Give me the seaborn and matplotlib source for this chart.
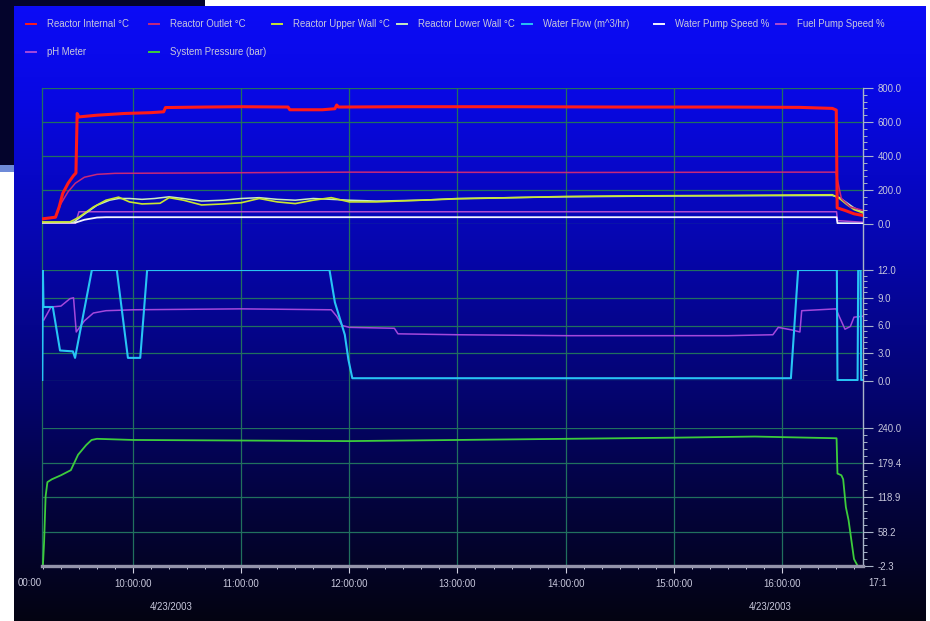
import numpy as np
import pandas as pd
import matplotlib
matplotlib.use("Agg")
import matplotlib.pyplot as plt
from matplotlib.lines import Line2D
from matplotlib.patches import Rectangle
from matplotlib.ticker import AutoMinorLocator, MultipleLocator
import seaborn as sns

# ---------------------------------------------------------------- data
# Reactor temperatures / pump speeds (upper panel, 0-800)
internal_t = ["09:09:30", "09:17:00", "09:19:00", "09:21:00", "09:24:00", "09:27:00", "09:28:20",
              "09:29:00", "09:30:00", "09:40:00", "09:55:00", "10:10:00", "10:17:00", "10:18:00",
              "10:40:00", "11:00:00", "11:26:00", "11:27:00", "11:45:00", "11:52:00", "11:53:00",
              "11:54:00", "12:30:00", "13:30:00", "14:30:00", "15:30:00", "16:10:00", "16:28:00",
              "16:30:10", "16:30:40", "16:35:00", "16:40:00", "16:45:00"]
internal_v = [30, 40, 100, 180, 240, 285, 300,
              650, 630, 640, 650, 655, 660, 685,
              688, 690, 688, 672, 672, 678, 700,
              688, 690, 690, 688, 688, 686, 680,
              670, 95, 80, 60, 50]

outlet_t = ["09:09:30", "09:17:00", "09:20:00", "09:24:00", "09:28:00", "09:33:00", "09:40:00",
            "09:50:00", "10:30:00", "12:00:00", "14:00:00", "16:00:00", "16:30:00", "16:31:00",
            "16:33:00", "16:38:00", "16:45:00"]
outlet_v = [30, 40, 120, 190, 240, 275, 292,
            298, 300, 305, 303, 305, 305, 250,
            150, 100, 80]

upper_wall_t = ["09:09:30", "09:25:00", "09:30:00", "09:38:00", "09:45:00", "09:52:00", "09:58:00",
                "10:05:00", "10:15:00", "10:20:00", "10:28:00", "10:38:00", "10:50:00", "11:00:00",
                "11:10:00", "11:20:00", "11:30:00", "11:40:00", "11:50:00", "12:00:00", "12:15:00",
                "12:40:00", "13:00:00", "13:30:00", "14:00:00", "14:30:00", "15:30:00", "16:28:00",
                "16:32:00", "16:36:00", "16:40:00", "16:45:00"]
upper_wall_v = [12, 12, 40, 100, 140, 158, 130,
                118, 122, 155, 140, 112, 118, 125,
                150, 130, 120, 140, 155, 130, 130,
                140, 148, 155, 162, 165, 168, 172,
                150, 115, 85, 65]

lower_wall_t = ["09:09:30", "09:27:00", "09:32:00", "09:40:00", "09:47:00", "09:52:00", "09:58:00",
                "10:05:00", "10:12:00", "10:20:00", "10:28:00", "10:38:00", "10:50:00", "11:00:00",
                "11:10:00", "11:20:00", "11:30:00", "11:40:00", "11:50:00", "12:00:00", "12:15:00",
                "12:40:00", "13:00:00", "13:30:00", "14:00:00", "15:00:00", "16:28:00", "16:32:00",
                "16:36:00", "16:40:00", "16:45:00"]
lower_wall_v = [8, 10, 50, 110, 140, 150, 150,
                145, 150, 160, 150, 135, 140, 150,
                155, 145, 140, 150, 145, 140, 135,
                140, 150, 155, 160, 165, 168, 155,
                125, 95, 70]

water_pump_t = ["09:09:30", "09:28:00", "09:33:00", "09:40:00", "09:45:00", "16:30:20", "16:30:50", "16:45:00"]
water_pump_v = [8, 8, 25, 38, 40, 40, 5, 3]

fuel_pump_t = ["09:09:30", "09:28:00", "09:30:00", "16:30:20", "16:30:50", "16:45:00"]
fuel_pump_v = [2, 2, 72, 72, 20, 10]

# Water flow and pH (middle panel, 0-12)
flow_t = ["09:09:40", "09:10:00", "09:10:20", "09:15:30", "09:19:30", "09:26:40", "09:27:50",
          "09:37:10", "09:51:00", "09:57:10", "10:04:00", "10:07:50", "11:49:00", "11:52:00",
          "11:55:00", "11:57:30", "11:59:30", "12:01:40", "16:05:00", "16:09:00", "16:30:30",
          "16:30:50", "16:42:00", "16:42:20", "16:43:40", "16:44:00", "16:45:00"]
flow_v = [0.0, 12.0, 8.0, 8.0, 3.3, 3.2, 2.5,
          12.0, 12.0, 2.5, 2.5, 12.0, 12.0, 8.5,
          6.6, 5.0, 2.3, 0.3, 0.3, 12.0, 12.0,
          0.1, 0.1, 12.0, 12.0, 0.1, 0.1]

ph_t = ["09:10:30", "09:14:30", "09:20:00", "09:25:00", "09:27:00", "09:28:30", "09:33:00",
        "09:38:00", "09:45:00", "10:00:00", "11:00:00", "11:50:00", "11:53:00", "11:56:00",
        "12:00:00", "12:25:00", "12:27:00", "13:00:00", "14:00:00", "15:30:00", "15:55:00",
        "15:58:00", "16:06:00", "16:10:00", "16:11:00", "16:30:00", "16:32:00", "16:35:00",
        "16:38:00", "16:40:00", "16:45:00"]
ph_v = [6.6, 8.0, 8.1, 8.9, 9.0, 5.3, 6.5,
        7.35, 7.6, 7.7, 7.8, 7.7, 7.0, 6.0,
        5.8, 5.7, 5.1, 5.0, 4.9, 4.9, 5.0,
        5.8, 5.5, 5.3, 7.6, 7.8, 6.9, 5.6,
        5.9, 6.9, 7.0]

# System pressure (lower panel)
pressure_t = ["09:09:30", "09:10:00", "09:10:40", "09:11:30", "09:12:30", "09:15:00", "09:20:00",
              "09:25:30", "09:29:30", "09:34:00", "09:37:00", "09:40:00", "10:00:00", "11:00:00",
              "12:00:00", "13:00:00", "14:00:00", "15:00:00", "15:45:00", "16:15:00", "16:30:20",
              "16:30:50", "16:33:00", "16:34:00", "16:35:30", "16:37:00", "16:40:00", "16:42:00",
              "16:45:00"]
pressure_v = [-2.3, -2.0, 40, 120, 145, 150, 157,
              166, 193, 210, 219, 221, 219, 218,
              217, 219, 221, 223, 225, 223, 222,
              160, 157, 150, 101, 78, 10, -2.0,
              -2.3]

# Axis ranges and tick labels
x_start, x_end = "09:09:30", "16:45:00"
hour_ticks = [10, 11, 12, 13, 14, 15, 16]
hour_labels = ["10:00:00", "11:00:00", "12:00:00", "13:00:00", "14:00:00", "15:00:00", "16:00:00"]
temp_ticks = [0.0, 200.0, 400.0, 600.0, 800.0]
flow_ticks = [0.0, 3.0, 6.0, 9.0, 12.0]
press_ticks = [-2.3, 58.2, 118.9, 179.4, 240.0]
date_label = "4/23/2003"

legend_names = ["Reactor Internal °C", "Reactor Outlet °C", "Reactor Upper Wall °C",
                "Reactor Lower Wall °C", "Water Flow (m^3/hr)", "Water Pump Speed %",
                "Fuel Pump Speed %", "pH Meter", "System Pressure (bar)"]

colors = {
    "Reactor Internal °C": "#ff1a1a",
    "Reactor Outlet °C": "#c8287a",
    "Reactor Upper Wall °C": "#c8e632",
    "Reactor Lower Wall °C": "#c8ecc0",
    "Water Flow (m^3/hr)": "#28c4f4",
    "Water Pump Speed %": "#f4f4ff",
    "Fuel Pump Speed %": "#b04ad0",
    "pH Meter": "#a448dc",
    "System Pressure (bar)": "#3ccc3c",
}


def hours(clock):
    parts = [int(p) for p in clock.split(":")]
    while len(parts) < 3:
        parts.append(0)
    return parts[0] + parts[1] / 60 + parts[2] / 3600


def frame(name, times, values):
    return pd.DataFrame({"time": [hours(t) for t in times], "value": values, "series": name})


# ---------------------------------------------------------------- figure
W, H = 930, 621
plt.rcParams["font.family"] = ["Liberation Sans Narrow", "Liberation Sans", "DejaVu Sans"]
fig = plt.figure(figsize=(W / 100, H / 100), dpi=100, facecolor="white")


def box(x0, y0, x1, y1):
    return [x0 / W, 1 - y1 / H, (x1 - x0) / W, (y1 - y0) / H]


def fx(x):
    return x / W


def fy(y):
    return 1 - y / H


txt_col = "#c8c8dc"
grid_col = "#21705e"
axis_col = "#a8b4c8"
fs = 6.9

# slide decoration behind the chart
fig.patches.append(Rectangle((0, fy(165)), 205 / W, 165 / H, transform=fig.transFigure,
                             facecolor="#04042c", edgecolor="none", zorder=-5))
fig.patches.append(Rectangle((0, fy(172)), 205 / W, 7 / H, transform=fig.transFigure,
                             facecolor="#6e8ad8", edgecolor="none", zorder=-5))

# chart panel with vertical blue-to-black gradient
ax_bg = fig.add_axes(box(14, 6, 925, 621), zorder=-4)
ys = np.linspace(6, 621, 400)
stops_y = [6, 100, 250, 400, 500, 621]
stops_rgb = np.array([[12, 12, 246], [8, 8, 226], [6, 6, 172], [4, 4, 108], [3, 3, 62], [4, 4, 18]]) / 255
grad = np.stack([np.interp(ys, stops_y, stops_rgb[:, i]) for i in range(3)], axis=-1)[:, None, :]
ax_bg.imshow(grad, aspect="auto", extent=[0, 1, 0, 1], origin="upper")
ax_bg.set_axis_off()

xmin, xmax = hours(x_start), hours(x_end)

# vertical hour grid spanning all three panels
ax_grid = fig.add_axes(box(42, 88, 863, 566), zorder=-3)
ax_grid.set_facecolor("none")
ax_grid.set_xlim(xmin, xmax)
ax_grid.set_ylim(0, 1)
for h in hour_ticks:
    ax_grid.axvline(h, color=grid_col, lw=0.9)
ax_grid.set_xticks([])
ax_grid.set_yticks([])
for side in ["top", "bottom"]:
    ax_grid.spines[side].set_visible(False)
ax_grid.spines["left"].set_color(grid_col)
ax_grid.spines["left"].set_linewidth(0.9)
ax_grid.spines["right"].set_color(axis_col)
ax_grid.spines["right"].set_linewidth(1.0)


def panel(rect, ylim, ticks, labels):
    ax = fig.add_axes(rect)
    ax.set_facecolor("none")
    ax.set_xlim(xmin, xmax)
    ax.set_ylim(*ylim)
    ax.set_yticks(ticks)
    ax.set_yticklabels(labels)
    ax.yaxis.set_minor_locator(AutoMinorLocator(5))
    ax.yaxis.tick_right()
    ax.tick_params(axis="y", which="major", length=7, width=0.8, color=axis_col, pad=3.6,
                   labelsize=fs, labelcolor=txt_col)
    ax.tick_params(axis="y", which="minor", length=2.8, width=0.7, color=axis_col)
    ax.set_xticks(hour_ticks)
    ax.tick_params(axis="x", length=0, labelbottom=False)
    ax.grid(axis="y", color=grid_col, lw=0.9)
    ax.grid(axis="x", visible=False)
    for side in ax.spines.values():
        side.set_visible(False)
    return ax


ax_top = panel(box(42, 88, 863, 224), (0, 800), temp_ticks, [f"{v:.1f}" for v in temp_ticks])
ax_mid = panel(box(42, 270, 863, 381), (0, 12), flow_ticks, [f"{v:.1f}" for v in flow_ticks])
ax_bot = panel(box(42, 428, 863, 566), (press_ticks[0], press_ticks[-1]), press_ticks,
               [f"{v:.1f}" for v in press_ticks])

top_series = [
    ("Fuel Pump Speed %", fuel_pump_t, fuel_pump_v, 1.1),
    ("Water Pump Speed %", water_pump_t, water_pump_v, 1.3),
    ("Reactor Lower Wall °C", lower_wall_t, lower_wall_v, 1.1),
    ("Reactor Upper Wall °C", upper_wall_t, upper_wall_v, 1.2),
    ("Reactor Outlet °C", outlet_t, outlet_v, 1.1),
    ("Reactor Internal °C", internal_t, internal_v, 2.2),
]
for name, t, v, lw in top_series:
    sns.lineplot(data=frame(name, t, v), x="time", y="value", color=colors[name], lw=lw,
                 estimator=None, sort=False, ax=ax_top)

sns.lineplot(data=frame("pH Meter", ph_t, ph_v), x="time", y="value",
             color=colors["pH Meter"], lw=1.1, estimator=None, sort=False, ax=ax_mid)
sns.lineplot(data=frame("Water Flow (m^3/hr)", flow_t, flow_v), x="time", y="value",
             color=colors["Water Flow (m^3/hr)"], lw=1.5, estimator=None, sort=False, ax=ax_mid)
sns.lineplot(data=frame("System Pressure (bar)", pressure_t, pressure_v), x="time", y="value",
             color=colors["System Pressure (bar)"], lw=1.3, estimator=None, sort=False, ax=ax_bot)

for ax in (ax_top, ax_mid, ax_bot):
    ax.set_xlim(xmin, xmax)
    ax.set_xlabel("")
    ax.set_ylabel("")
    ax.grid(axis="x", visible=False)

# time axis under the lower panel
ax_bot.spines["bottom"].set_visible(True)
ax_bot.spines["bottom"].set_color("#9494aa")
ax_bot.spines["bottom"].set_linewidth(2.4)
ax_bot.set_xticks(hour_ticks)
ax_bot.set_xticklabels(hour_labels)
ax_bot.xaxis.set_minor_locator(MultipleLocator(1 / 6))
ax_bot.tick_params(axis="x", which="major", length=5, width=0.8, color="#d0d0e0", pad=4.2,
                   labelsize=fs, labelcolor=txt_col, labelbottom=True)
ax_bot.tick_params(axis="x", which="minor", length=2.5, width=0.7, color="#d0d0e0")

fig.text(fx(30), fy(583), "00:00", color=txt_col, fontsize=fs, ha="center", va="center")
fig.text(fx(878), fy(583), "17:1", color=txt_col, fontsize=fs, ha="center", va="center")
fig.text(fx(171), fy(607), date_label, color=txt_col, fontsize=fs, ha="center", va="center")
fig.text(fx(770), fy(607), date_label, color=txt_col, fontsize=fs, ha="center", va="center")

# legend across the top of the panel
legend_x = [47, 170, 293, 418, 543, 675, 797, 47, 170]
legend_y = [24, 24, 24, 24, 24, 24, 24, 52, 52]
for name, tx, ty in zip(legend_names, legend_x, legend_y):
    fig.add_artist(Line2D([fx(tx - 21), fx(tx - 11)], [fy(ty), fy(ty)], color=colors[name],
                          lw=1.4, transform=fig.transFigure))
    fig.text(fx(tx), fy(ty), name, color=txt_col, fontsize=fs, ha="left", va="center")

fig.savefig("out.png", dpi=100, facecolor="white")
